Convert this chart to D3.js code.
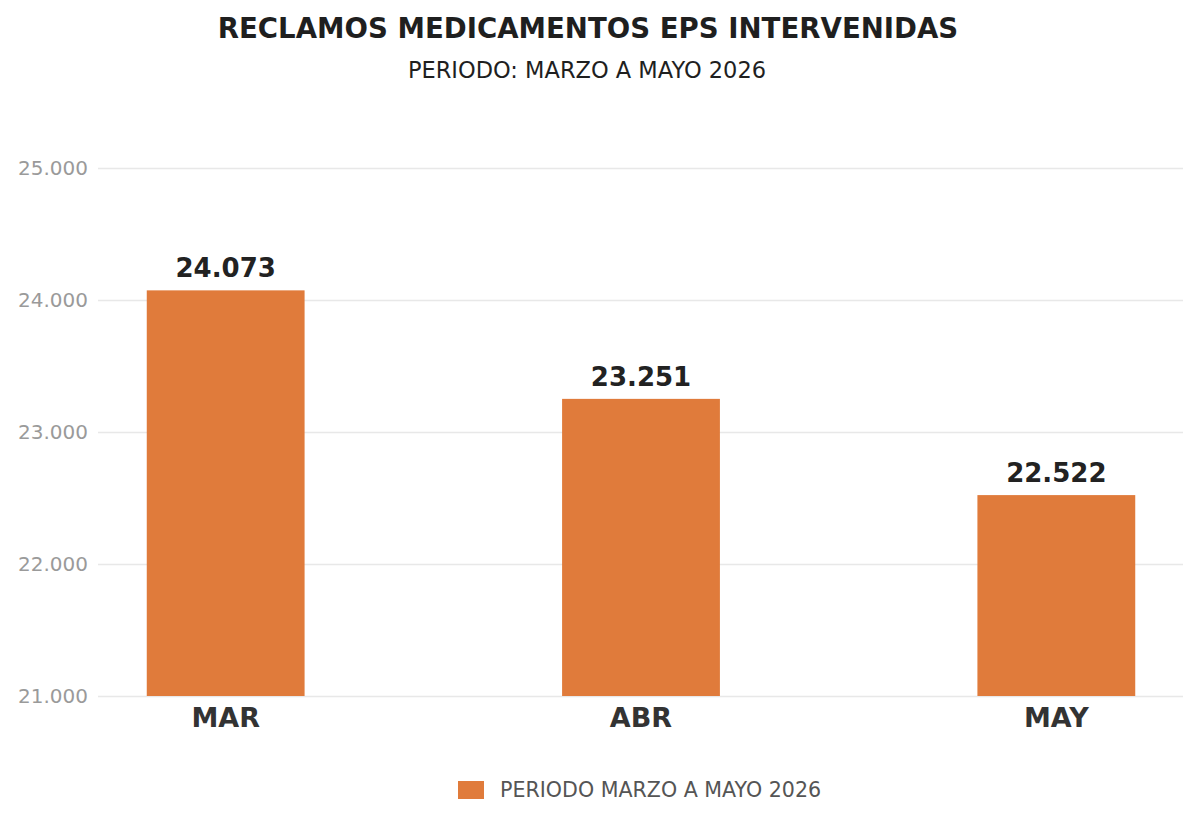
<!DOCTYPE html>
<html>
<head>
<meta charset="utf-8">
<script src="https://cdn.jsdelivr.net/npm/d3@7"></script>
<style>
  body { margin: 0; background: #fff; }
  svg { display: block; font-family: "DejaVu Sans", sans-serif; }
</style>
</head>
<body>
<svg id="chart" width="1200" height="826"></svg>
<script>
// data
const months = ["MAR", "ABR", "MAY"]
const claims = [24073, 23251, 22522]
const yTicks = [21000, 22000, 23000, 24000, 25000]
const legendLabel = "PERIODO MARZO A MAYO 2026"

const svg = d3.select("#chart")
const barColor = "#e07b3b"
const fmt = d3.formatLocale({ decimal: ",", thousands: ".", grouping: [3], currency: ["$", ""] }).format(",d")

const x = d3.scaleBand()
    .domain(months)
    .range([99, 1183])
    .paddingInner(0.62)
    .paddingOuter(0.115)

const y = d3.scaleLinear()
    .domain([21000, 25000])
    .range([696, 168])

// title
svg.append("text")
    .attr("x", 588).attr("y", 38)
    .attr("text-anchor", "middle")
    .attr("font-size", 27.6).attr("font-weight", "bold")
    .attr("fill", "#1f1f1f")
    .text("RECLAMOS MEDICAMENTOS EPS INTERVENIDAS")

svg.append("text")
    .attr("x", 587).attr("y", 78)
    .attr("text-anchor", "middle")
    .attr("font-size", 22.5)
    .attr("fill", "#1f1f1f")
    .text("PERIODO: MARZO A MAYO 2026")

// gridlines + y labels
const yAxis = svg.append("g")
    .attr("transform", "translate(98,0)")
    .call(d3.axisLeft(y).tickValues(yTicks).tickFormat(fmt).tickSize(-1085).tickPadding(10))
yAxis.select(".domain").remove()
yAxis.selectAll(".tick line").attr("stroke", "#e8e8e8").attr("stroke-width", 1.5)
yAxis.selectAll(".tick text")
    .attr("font-family", "DejaVu Sans, sans-serif")
    .attr("font-size", 20).attr("fill", "#9a9a9a")

// bars
svg.append("g")
    .selectAll("rect")
    .data(claims)
    .join("rect")
    .attr("x", (d, i) => x(months[i]))
    .attr("width", x.bandwidth())
    .attr("y", d => y(d))
    .attr("height", d => y(21000) - y(d))
    .attr("fill", barColor)

// value labels
svg.append("g")
    .selectAll("text")
    .data(claims)
    .join("text")
    .attr("x", (d, i) => x(months[i]) + x.bandwidth() / 2)
    .attr("y", d => y(d) - 13)
    .attr("text-anchor", "middle")
    .attr("font-size", 26).attr("font-weight", "bold")
    .attr("fill", "#222")
    .text(d => fmt(d))

// x labels
const xAxis = svg.append("g")
    .attr("transform", "translate(0,696)")
    .call(d3.axisBottom(x).tickSize(0).tickPadding(10))
xAxis.select(".domain").remove()
xAxis.selectAll(".tick text")
    .attr("dy", 0).attr("y", 31)
    .attr("font-family", "DejaVu Sans, sans-serif")
    .attr("font-size", 27).attr("font-weight", "bold")
    .attr("fill", "#333")

// legend
const legend = svg.append("g").attr("transform", "translate(458,781)")
legend.append("rect")
    .attr("width", 26).attr("height", 18)
    .attr("fill", barColor)
legend.append("text")
    .attr("x", 42).attr("y", 16)
    .attr("font-size", 20.6)
    .attr("fill", "#555")
    .text(legendLabel)
</script>
</body>
</html>
